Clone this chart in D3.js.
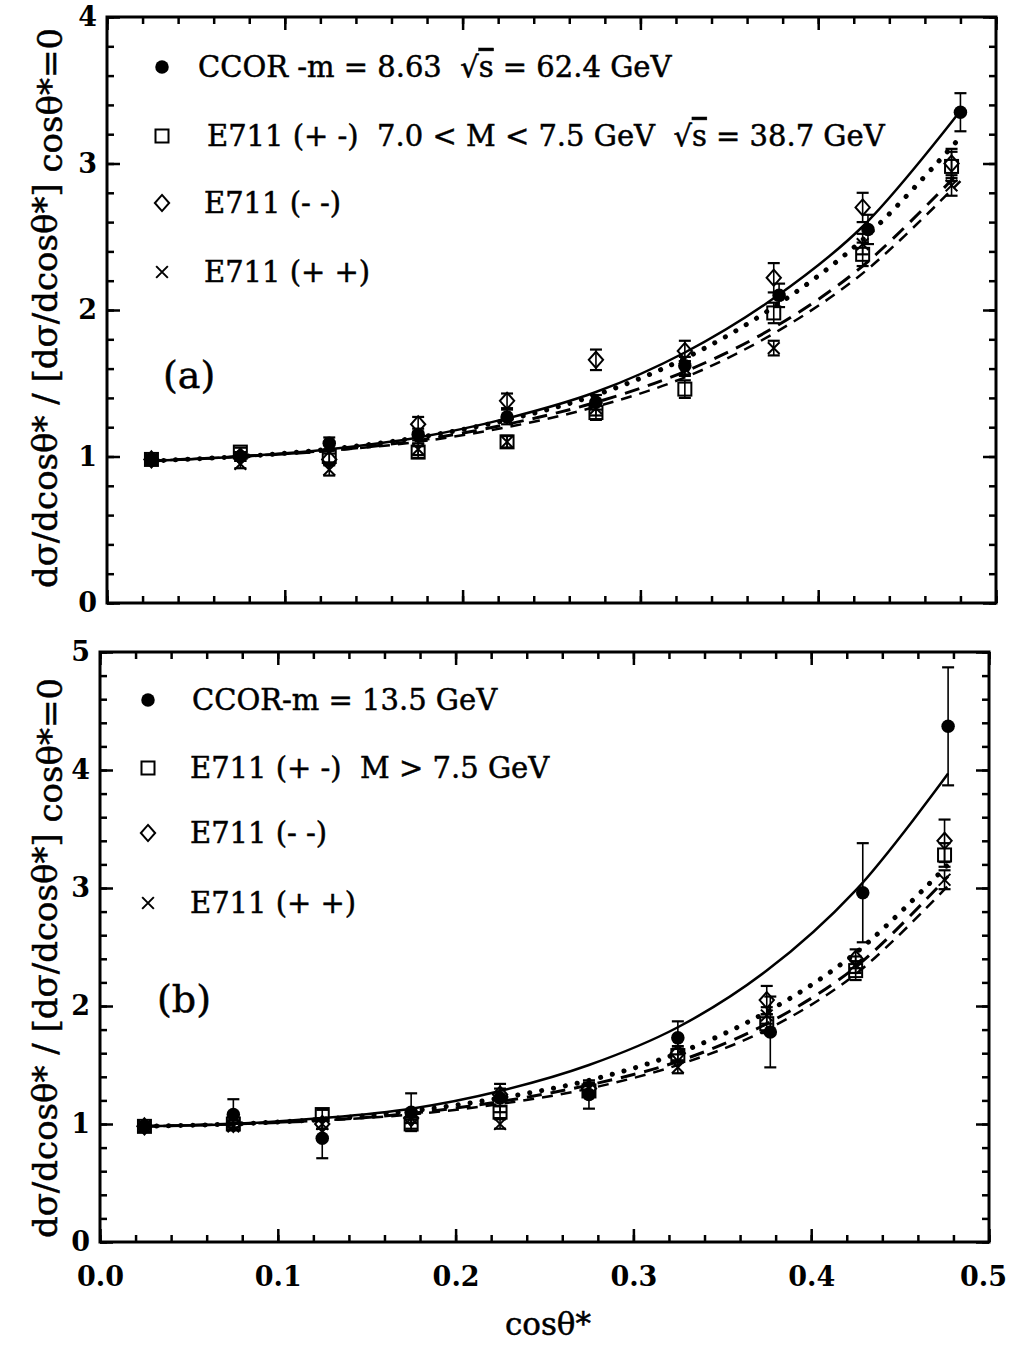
<!DOCTYPE html>
<html>
<head>
<meta charset="utf-8">
<script src="https://cdn.jsdelivr.net/npm/d3@7"></script>
<style>
  body { margin: 0; background: #fff; }
  text { font-family: "DejaVu Serif", serif; fill: #000; white-space: pre; }
</style>
</head>
<body>
<div class="chart"></div>
<script>
// bin centres in cos(theta*)
const xBins = [0.025, 0.075, 0.125, 0.175, 0.225, 0.275, 0.325, 0.375, 0.425, 0.475];
const xTicksMajor = [0, 0.1, 0.2, 0.3, 0.4, 0.5];
const xTickLabels = ["0.0", "0.1", "0.2", "0.3", "0.4", "0.5"];

// ---- panel (a) ----
const ccorXA   = [0.025, 0.075, 0.125, 0.175, 0.225, 0.275, 0.325, 0.378, 0.428, 0.48];
const ccorA    = [0.98, 1.0, 1.09, 1.15, 1.27, 1.37, 1.62, 2.1, 2.55, 3.35];
const ccorErrA = [0.02, 0.03, 0.04, 0.04, 0.05, 0.05, 0.06, 0.08, 0.1, 0.13];
const pmA      = [0.98, 1.03, 1.0, 1.03, 1.1, 1.3, 1.46, 1.98, 2.38, 2.98];
const pmErrA   = [0.02, 0.03, 0.04, 0.04, 0.04, 0.05, 0.06, 0.07, 0.08, 0.1];
const mmA      = [0.98, 1.0, 0.98, 1.22, 1.38, 1.66, 1.72, 2.22, 2.7, 3.0];
const mmErrA   = [0.02, 0.03, 0.04, 0.05, 0.05, 0.07, 0.07, 0.1, 0.1, 0.1];
const ppA      = [0.98, 0.95, 0.91, 1.05, 1.1, 1.33, 1.6, 1.74, 2.45, 2.85];
const ppErrA   = [0.02, 0.03, 0.04, 0.04, 0.04, 0.05, 0.05, 0.05, 0.07, 0.07];
// curves
const curveXA   = [0.025, 0.075, 0.125, 0.175, 0.225, 0.275, 0.325, 0.375, 0.425, 0.48];
const solidA    = [0.97, 1.0, 1.05, 1.13, 1.26, 1.44, 1.71, 2.08, 2.57, 3.36];
const dottedA   = [0.97, 1.0, 1.05, 1.13, 1.25, 1.42, 1.67, 2.02, 2.48, 3.18];
const dashedA1  = [0.97, 1.0, 1.04, 1.11, 1.22, 1.37, 1.58, 1.88, 2.3, 2.95];
const dashedA2  = [0.97, 1.0, 1.04, 1.1, 1.2, 1.34, 1.54, 1.84, 2.25, 2.88];

// ---- panel (b) ----
const ccorXB   = [0.025, 0.075, 0.125, 0.175, 0.225, 0.275, 0.325, 0.377, 0.429, 0.477];
const ccorB    = [0.98, 1.08, 0.88, 1.1, 1.22, 1.25, 1.73, 1.78, 2.96, 4.37];
const ccorErrB = [0.02, 0.13, 0.17, 0.16, 0.12, 0.12, 0.14, 0.3, 0.42, 0.5];
const pmB      = [0.98, 1.0, 1.08, 1.0, 1.1, 1.28, 1.58, 1.85, 2.3, 3.28];
const pmErrB   = [0.02, 0.03, 0.04, 0.04, 0.05, 0.05, 0.06, 0.08, 0.08, 0.1];
const mmB      = [0.98, 1.0, 1.0, 1.05, 1.25, 1.3, 1.6, 2.05, 2.4, 3.4];
const mmErrB   = [0.02, 0.03, 0.04, 0.04, 0.05, 0.05, 0.06, 0.12, 0.08, 0.18];
const ppB      = [0.98, 0.98, 1.0, 1.05, 1.0, 1.3, 1.48, 1.92, 2.35, 3.07];
const ppErrB   = [0.02, 0.03, 0.04, 0.04, 0.04, 0.05, 0.05, 0.07, 0.07, 0.08];
const curveXB   = [0.025, 0.075, 0.125, 0.175, 0.225, 0.275, 0.325, 0.375, 0.425, 0.477];
const solidB    = [0.98, 1.0, 1.05, 1.13, 1.28, 1.5, 1.82, 2.3, 2.98, 3.97];
const dottedB   = [0.98, 1.0, 1.04, 1.11, 1.22, 1.37, 1.6, 1.95, 2.45, 3.2];
const dashedB1  = [0.98, 1.0, 1.03, 1.09, 1.19, 1.33, 1.53, 1.85, 2.33, 3.1];
const dashedB2  = [0.98, 1.0, 1.03, 1.08, 1.17, 1.3, 1.5, 1.8, 2.27, 3.02];

const legendA = ["CCOR -m = 8.63  ", "E711 (+ -)  7.0 < M < 7.5 GeV  ", "E711 (- -)", "E711 (+ +)"];
const legendB = ["CCOR-m = 13.5 GeV", "E711 (+ -)  M > 7.5 GeV", "E711 (- -)", "E711 (+ +)"];

const w = 1011, h = 1346;
const svg = d3.select('.chart').append('svg')
              .attr('width', w)
              .attr('height', h);

function marker(g, type, cx, cy, s) {
    if (type == 'circle') {
        g.append('circle').attr('cx', cx).attr('cy', cy).attr('r', s * 0.52).attr('fill', '#000');
    } else if (type == 'square') {
        g.append('rect').attr('x', cx - s / 2).attr('y', cy - s / 2)
            .attr('width', s).attr('height', s)
            .attr('fill', 'none').attr('stroke', '#000').attr('stroke-width', 2);
    } else if (type == 'diamond') {
        const a = s * 0.55, b = s * 0.62;
        g.append('path')
            .attr('d', `M${cx},${cy - b}L${cx + a},${cy}L${cx},${cy + b}L${cx - a},${cy}Z`)
            .attr('fill', 'none').attr('stroke', '#000').attr('stroke-width', 2);
    } else {
        const a = s * 0.45;
        g.append('path')
            .attr('d', `M${cx - a},${cy - a}L${cx + a},${cy + a}M${cx - a},${cy + a}L${cx + a},${cy - a}`)
            .attr('fill', 'none').attr('stroke', '#000').attr('stroke-width', 2);
    }
}

function drawPanel(p) {
    const x = d3.scaleLinear().domain([0, 0.5]).range([p.left, p.right]);
    const y = d3.scaleLinear().domain([0, p.ymax]).range([p.bottom, p.top]);
    const g = svg.append('g');

    // ticks: minor every 0.02 / 0.2, major every 0.1 / 1
    const xMinor = d3.range(0, 0.5001, 0.02);
    const yMinor = d3.range(0, p.ymax + 0.001, 0.2);
    const yMajor = d3.range(0, p.ymax + 1);

    const sides = [
        [d3.axisBottom, p.bottom, 'x'], [d3.axisTop, p.top, 'x'],
        [d3.axisLeft, p.left, 'y'], [d3.axisRight, p.right, 'y']
    ];
    sides.forEach(([ax, pos, dim]) => {
        const sc = dim == 'x' ? x : y;
        const tr = dim == 'x' ? `translate(0,${pos})` : `translate(${pos},0)`;
        g.append('g').attr('transform', tr)
            .call(ax(sc).tickValues(dim == 'x' ? xMinor : yMinor).tickSize(-7).tickFormat(''))
            .call(s => s.select('.domain').remove())
            .selectAll('line').attr('stroke-width', 2.5);
        g.append('g').attr('transform', tr)
            .call(ax(sc).tickValues(dim == 'x' ? xTicksMajor : yMajor).tickSize(-13).tickFormat(''))
            .call(s => s.select('.domain').remove())
            .selectAll('line').attr('stroke-width', 2.5);
    });

    // y tick labels
    g.append('g').attr('transform', `translate(${p.left},0)`)
        .call(d3.axisLeft(y).tickValues(yMajor).tickSize(0).tickPadding(10).tickFormat(d3.format('d')))
        .call(s => s.select('.domain').remove())
        .selectAll('text')
        .attr('font-family', 'DejaVu Serif').attr('font-size', 27).attr('font-weight', 'bold');

    if (p.xLabels) {
        g.append('g').attr('transform', `translate(0,${p.bottom})`)
            .call(d3.axisBottom(x).tickValues(xTicksMajor).tickSize(0).tickPadding(25)
                .tickFormat((d, i) => xTickLabels[i]))
            .call(s => s.select('.domain').remove())
            .selectAll('text')
            .attr('font-family', 'DejaVu Serif').attr('font-size', 27).attr('font-weight', 'bold')
            .attr('dx', (d, i) => i == xTicksMajor.length - 1 ? -6 : 0);
    }

    // frame
    g.append('rect')
        .attr('x', p.left).attr('y', p.top)
        .attr('width', p.right - p.left).attr('height', p.bottom - p.top)
        .attr('fill', 'none').attr('stroke', '#000').attr('stroke-width', 3);

    // curves
    const line = d3.line().x(d => x(d[0])).y(d => y(d[1])).curve(d3.curveCatmullRom);
    const curveStyles = [
        [p.solid, null, 2.5, 'butt'],
        [p.dotted, '0.1 12', 5, 'round'],
        [p.dashed1, '15 9', 3, 'butt'],
        [p.dashed2, '11 8', 2.5, 'butt']
    ];
    curveStyles.forEach(([vals, dash, sw, cap]) => {
        g.append('path')
            .datum(p.curveX.map((v, i) => [v, vals[i]]))
            .attr('d', line)
            .attr('fill', 'none').attr('stroke', '#000')
            .attr('stroke-width', sw)
            .attr('stroke-linecap', cap)
            .attr('stroke-dasharray', dash);
    });

    // data with error bars
    const series = [
        ['square', xBins, p.pm, p.pmErr],
        ['diamond', xBins, p.mm, p.mmErr],
        ['cross', xBins, p.pp, p.ppErr],
        ['circle', p.ccorX, p.ccor, p.ccorErr]
    ];
    series.forEach(([type, xs, vals, errs]) => {
        const sg = g.append('g');
        vals.forEach((v, i) => {
            const cx = x(xs[i]);
            const y1 = y(v + errs[i]), y2 = y(v - errs[i]);
            sg.append('line').attr('x1', cx).attr('x2', cx).attr('y1', y1).attr('y2', y2)
                .attr('stroke', '#000').attr('stroke-width', 1.6);
            [y1, y2].forEach(yy => sg.append('line')
                .attr('x1', cx - 6).attr('x2', cx + 6).attr('y1', yy).attr('y2', yy)
                .attr('stroke', '#000').attr('stroke-width', 2.2));
            marker(sg, type, cx, y(v), 13);
        });
    });

    // legend
    const types = ['circle', 'square', 'diamond', 'cross'];
    p.legend.forEach((t, i) => {
        const ly = p.legendY[i];
        marker(g, types[i], p.legendX, ly, 13);
        const txt = g.append('text')
            .attr('x', p.legendTextX[i]).attr('y', ly + 10)
            .attr('font-size', 29)
            .attr('stroke', '#000').attr('stroke-width', 0.5)
            .text(t);
        if (p.sqrtS[i]) {
            txt.append('tspan').text('√');
            txt.append('tspan').style('text-decoration', 'overline').text('s');
            txt.append('tspan').text(' = ' + p.sqrtS[i]);
        }
    });

    g.append('text')
        .attr('x', p.tagX).attr('y', p.tagY)
        .attr('font-size', 38)
        .attr('stroke', '#000').attr('stroke-width', 0.5)
        .text(p.tag);

    // y axis title
    const yt = g.append('text')
        .attr('transform', `translate(${p.titleX},${p.titleY}) rotate(-90)`)
        .attr('text-anchor', 'middle')
        .attr('font-size', 34)
        .attr('stroke', '#000').attr('stroke-width', 0.5)
        .text('dσ/dcosθ* / [dσ/dcosθ*] ');
    yt.append('tspan').attr('dy', 5).text('cosθ*=0');
}

drawPanel({
    left: 107, right: 996, top: 17, bottom: 603, ymax: 4,
    ccorX: ccorXA, ccor: ccorA, ccorErr: ccorErrA,
    pm: pmA, pmErr: pmErrA, mm: mmA, mmErr: mmErrA, pp: ppA, ppErr: ppErrA,
    curveX: curveXA, solid: solidA, dotted: dottedA, dashed1: dashedA1, dashed2: dashedA2,
    legend: legendA, sqrtS: ['62.4 GeV', '38.7 GeV', null, null],
    legendX: 162, legendY: [67, 136, 203, 272], legendTextX: [198, 207, 204, 204],
    tag: '(a)', tagX: 163, tagY: 388,
    titleX: 57, titleY: 308, xLabels: false
});

drawPanel({
    left: 100, right: 989, top: 652, bottom: 1242, ymax: 5,
    ccorX: ccorXB, ccor: ccorB, ccorErr: ccorErrB,
    pm: pmB, pmErr: pmErrB, mm: mmB, mmErr: mmErrB, pp: ppB, ppErr: ppErrB,
    curveX: curveXB, solid: solidB, dotted: dottedB, dashed1: dashedB1, dashed2: dashedB2,
    legend: legendB, sqrtS: [null, null, null, null],
    legendX: 148, legendY: [700, 768, 833, 903], legendTextX: [192, 190, 190, 190],
    tag: '(b)', tagX: 157, tagY: 1012,
    titleX: 57, titleY: 958, xLabels: true
});

// x axis title
svg.append('text')
    .attr('x', 548).attr('y', 1335)
    .attr('text-anchor', 'middle')
    .attr('font-size', 31)
    .attr('stroke', '#000').attr('stroke-width', 0.5)
    .text('cosθ*');
</script>
</body>
</html>
